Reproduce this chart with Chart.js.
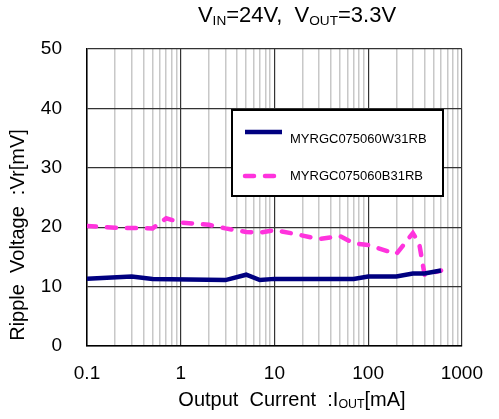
<!DOCTYPE html>
<html>
<head>
<meta charset="utf-8">
<script src="https://cdn.jsdelivr.net/npm/chart.js@4"></script>
<style>
  html, body { margin: 0; padding: 0; background: #fff; }
  #wrap { width: 499px; height: 419px; position: relative; }
</style>
</head>
<body>
<div id="wrap"><canvas id="grafico"></canvas></div>
<script>
// dati
const currentW31 = [0.1, 0.3, 0.5, 3, 5, 7, 10, 70, 100, 200, 300, 400, 600];
const rippleW31 = [11.3, 11.7, 11.3, 11.1, 12.0, 11.1, 11.3, 11.3, 11.7, 11.7, 12.2, 12.2, 12.7];
const currentB31 = [0.1, 0.2, 0.5, 0.7, 1, 2, 3, 5, 7, 10, 15, 30, 50, 70, 100, 200, 300, 350, 400, 600];
const rippleB31 = [20.2, 19.9, 19.8, 21.5, 20.8, 20.4, 19.8, 19.2, 19.1, 19.5, 19.0, 18.0, 18.5, 17.3, 17.0, 15.5, 19.0, 17.3, 12.0, 12.7];
const seriesNames = ['MYRGC075060W31RB', 'MYRGC075060B31RB'];
const xMajorTicks = [0.1, 1, 10, 100, 1000];
const yTicks = [0, 10, 20, 30, 40, 50];

const FONT = "'Liberation Sans', Arial, sans-serif";

// tutte le linee verticali 1..9 per decade
const xAllTicks = [];
for (let e = -1; e <= 2; e++) {
  for (let m = 1; m <= 9; m++) xAllTicks.push(+(m * Math.pow(10, e)).toPrecision(3));
}
xAllTicks.push(1000);

const toPoints = (xs, ys) => xs.map((x, i) => ({ x: x, y: ys[i] }));
const isMajor = v => xMajorTicks.some(t => Math.abs(t - v) / t < 1e-6);

// testo con pedice, es. V + IN
function drawRich(c, parts, x, y, size, align) {
  let w = 0;
  parts.forEach(p => {
    c.font = (p.sub ? size * 0.62 : size) + 'px ' + FONT;
    p.w = c.measureText(p.t).width;
    w += p.w;
  });
  let cx = align === 'center' ? x - w / 2 : x;
  parts.forEach(p => {
    c.font = (p.sub ? size * 0.62 : size) + 'px ' + FONT;
    c.fillText(p.t, cx, p.sub ? y + size * 0.22 : y);
    cx += p.w;
  });
}

const textPlugin = {
  id: 'testi',
  afterDraw(chart) {
    const c = chart.ctx;
    c.save();
    c.fillStyle = '#000';
    c.textBaseline = 'middle';
    c.textAlign = 'left';
    // titolo
    drawRich(c, [{ t: 'V' }, { t: 'IN', sub: true }, { t: '=24V,  V' }, { t: 'OUT', sub: true }, { t: '=3.3V' }], 297, 16, 22, 'center');
    // titolo asse x
    drawRich(c, [{ t: 'Output  Current  :I' }, { t: 'OUT', sub: true }, { t: '[mA]' }], 292, 400, 20, 'center');
    // titolo asse y
    c.translate(18, 235);
    c.rotate(-Math.PI / 2);
    c.textAlign = 'center';
    c.font = '20px ' + FONT;
    c.fillText('Ripple  Voltage  :Vr[mV]', 0, 0);
    c.restore();

    // legenda
    c.save();
    const lx = 232, ly = 110, lw = 211, lh = 86;
    c.fillStyle = '#fff';
    c.fillRect(lx, ly, lw, lh);
    c.strokeStyle = '#000';
    c.lineWidth = 2;
    c.strokeRect(lx, ly, lw, lh);
    const rows = [{ ly: 132, ty: 139 }, { ly: 176, ty: 176 }];
    chart.data.datasets.forEach((ds, i) => {
      c.strokeStyle = ds.borderColor;
      c.lineWidth = ds.borderWidth;
      c.lineCap = ds.borderCapStyle || 'butt';
      c.setLineDash(ds.borderDash || []);
      c.beginPath();
      c.moveTo(lx + 13, rows[i].ly);
      c.lineTo(lx + 50, rows[i].ly);
      c.stroke();
      c.setLineDash([]);
      c.fillStyle = '#000';
      c.font = '13px ' + FONT;
      c.textBaseline = 'middle';
      c.fillText(ds.label, lx + 58, rows[i].ty);
    });
    c.restore();
  }
};

new Chart(document.getElementById('grafico'), {
  type: 'line',
  data: {
    datasets: [{
      label: seriesNames[0],
      data: toPoints(currentW31, rippleW31),
      borderColor: '#000080',
      borderWidth: 4.5,
      pointRadius: 0,
      tension: 0
    }, {
      label: seriesNames[1],
      data: toPoints(currentB31, rippleB31),
      borderColor: '#ff33dd',
      borderWidth: 4.5,
      borderDash: [9, 11],
      borderCapStyle: 'round',
      pointRadius: 0,
      tension: 0
    }]
  },
  options: {
    responsive: true,
    maintainAspectRatio: false,
    animation: false,
    events: [],
    layout: { padding: { top: 49, right: 23, left: 0, bottom: 0 } },
    plugins: { legend: { display: false }, tooltip: { enabled: false } },
    scales: {
      x: {
        type: 'logarithmic',
        min: 0.1,
        max: 1000,
        afterBuildTicks: s => { s.ticks = xAllTicks.map(v => ({ value: v, major: isMajor(v) })); },
        afterFit: s => { s.height = 73; },
        ticks: {
          autoSkip: false,
          maxRotation: 0,
          padding: 16,
          color: '#000',
          font: { family: FONT, size: 19 },
          callback: v => isMajor(v) ? String(v) : ''
        },
        grid: {
          drawTicks: false,
          color: c => (c.tick && c.tick.major) ? '#333' : '#c8c8c8',
          lineWidth: c => (c.tick && c.tick.major) ? 1.2 : 1.5
        },
        border: { color: '#000', width: 1.5 }
      },
      y: {
        min: 0,
        max: 50,
        afterBuildTicks: s => { s.ticks = yTicks.map(v => ({ value: v })); },
        afterFit: s => { s.width = 87; },
        ticks: {
          padding: 25,
          color: '#000',
          font: { family: FONT, size: 19 }
        },
        grid: { drawTicks: false, color: '#333', lineWidth: 1.2 },
        border: { color: '#000', width: 1.5 }
      }
    }
  },
  plugins: [textPlugin]
});
</script>
</body>
</html>
